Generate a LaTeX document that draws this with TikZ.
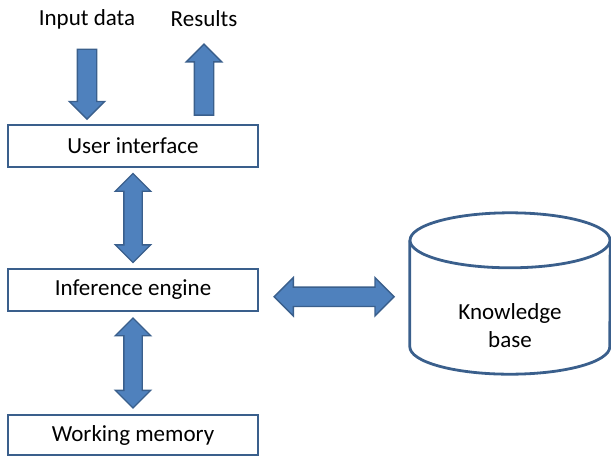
\documentclass[tikz,border=0pt]{standalone}
\usepackage{fontspec}
\setmainfont{Carlito}
\usetikzlibrary{shapes.arrows}

\definecolor{arrowfill}{HTML}{4F81BD}
\definecolor{edgeblue}{HTML}{3A5F8C}

\tikzset{
  label text/.style={font=\fontsize{23}{28}\selectfont},
  layer box/.style={draw=edgeblue, line width=1.3pt, minimum width=250pt,
    minimum height=42pt, inner sep=0pt, label text},
  one arrow/.style={single arrow, fill=arrowfill, draw=edgeblue,
    line width=1.4pt, inner xsep=0pt, inner ysep=9pt,
    single arrow head extend=8pt},
  two arrow/.style={double arrow, fill=arrowfill, draw=edgeblue,
    line width=1.4pt, inner xsep=0pt, inner ysep=8.5pt,
    double arrow head extend=8.5pt},
  store/.style={draw=edgeblue, line width=2.8pt}
}

\begin{document}
\begin{tikzpicture}[x=1pt,y=1pt]
  \useasboundingbox (0,0) rectangle (611,-456);

  % the three layers on the left
  \node[layer box] (ui) at (133,-146) {User interface};
  \node[layer box] (ie) at (133,-290) {Inference engine};
  \node[layer box, minimum height=40pt] (wm) at (133,-435) {Working memory};

  % in and out
  \node[label text] (indata) at (87,-19) {Input data};
  \node[label text] (results) at (204,-19) {Results};

  % knowledge base
  \node[minimum width=200pt, minimum height=161pt, inner sep=0pt] (kb) at (510,-293.5) {};
  \draw[store] ([yshift=-27.5pt]kb.north west) -- ([yshift=27.5pt]kb.south west)
    arc[start angle=180, end angle=360, x radius=100pt, y radius=27.5pt]
    -- ([yshift=-27.5pt]kb.north east);
  \draw[store] ([yshift=-27.5pt]kb.north) ellipse[x radius=100pt, y radius=27.5pt];
  \node[label text, align=center] (kbtext) at (510,-326) {Knowledge\\base};

  % arrows
  \path (indata.south) -- (indata.south |- ui.north)
    node[midway, yshift=-1pt, one arrow, rotate=-90, minimum height=70pt] (inarrow) {};
  \path (results.south) -- (results.south |- ui.north)
    node[midway, yshift=-7pt, one arrow, rotate=90, minimum height=71pt] (outarrow) {};
  \path (ui.south) -- (ie.north)
    node[midway, two arrow, rotate=90, minimum height=89pt] (uiie) {};
  \path (ie.south) -- (wm.north)
    node[midway, two arrow, rotate=90, minimum height=90pt] (iewm) {};
  \path (ie.east) -- (kb.west)
    node[midway, yshift=-5pt, two arrow, minimum height=120pt, inner ysep=9pt,
      double arrow head extend=9.5pt] (iekb) {};
\end{tikzpicture}
\end{document}
